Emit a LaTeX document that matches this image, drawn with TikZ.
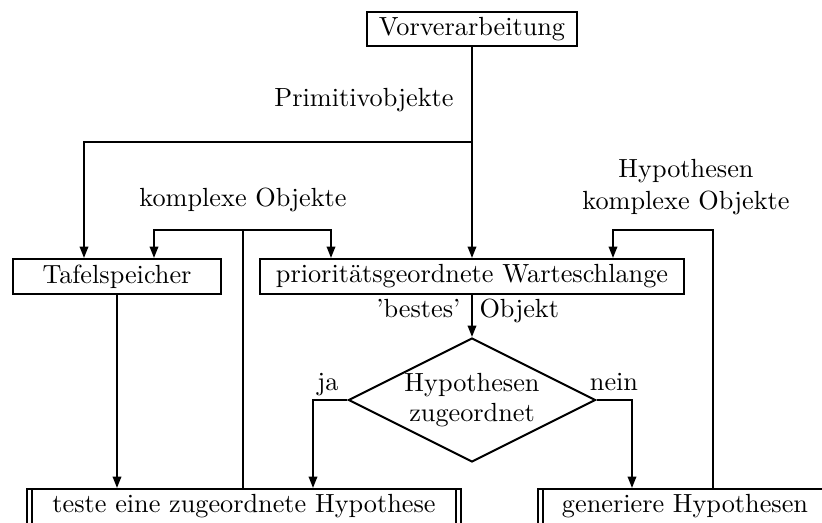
\documentclass[tikz,border=0pt]{standalone}
\usepackage{fontspec}
\usetikzlibrary{arrows.meta,shapes.geometric}
\begin{document}
\begin{tikzpicture}[x=0.4pt,y=-0.4pt,
  every node/.style={font=\fontsize{10.5pt}{12pt}\selectfont},
  box/.style={draw, thick, inner sep=0pt, minimum height=14pt},
  procbox/.style={box, path picture={
      \draw[thick] ([xshift=2pt]path picture bounding box.north west) -- ([xshift=2pt]path picture bounding box.south west)
                   ([xshift=-2pt]path picture bounding box.north east) -- ([xshift=-2pt]path picture bounding box.south east);}},
  decision/.style={draw, thick, shape=diamond, aspect=2, inner sep=0pt,
      minimum width=98.8pt, minimum height=49.6pt, align=center},
  lab/.style={inner sep=0pt, anchor=base},
  conn/.style={thick},
  arr/.style={thick, -{Triangle[length=4.6pt,width=3.4pt]}}]
\useasboundingbox (0,0) rectangle (822,522);
\clip (0,0) rectangle (822,522);

% boxes
\node[box, minimum width=83.6pt, minimum height=13.6pt] (vor) at (472,29) {Vorverarbeitung};
\node[box, minimum width=83.2pt] (taf) at (117,276.5) {Tafelspeicher};
\node[box, minimum width=169.6pt] (warte) at (472,276.5) {prioritätsgeordnete Warteschlange};
\node[decision] (dec) at (472,400) {Hypothesen\\zugeordnet};
\node[procbox, minimum width=173.6pt] (test) at (244,506.5) {teste eine zugeordnete Hypothese};
\node[procbox, minimum width=117.6pt] (gen) at (685,506.5) {generiere Hypothesen};

% labels
\node[lab] (lprim) at (364,106) {Primitivobjekte};
\node[lab] (lkom) at (243,206) {komplexe Objekte};
\node[lab] (lhyp) at (686,177) {Hypothesen};
\node[lab] (lkom2) at (686,209) {komplexe Objekte};
\node[lab, anchor=base east] (lbest) at (461,317) {'bestes'};
\node[lab, anchor=base west] (lobj) at (479,317) {Objekt};
\node[lab] (lja) at (328,390) {ja};
\node[lab] (lnein) at (614,390) {nein};

% bend points
\coordinate (pj) at (472,142);
\coordinate (pl) at (84,142);
\coordinate (ks) at (243,230);
\coordinate (kl) at (154,230);
\coordinate (kr) at (331,230);
\coordinate (jx) at (313,400);
\coordinate (nx) at (632,400);
\coordinate (rt) at (713,230);
\coordinate (rl) at (613,230);

% connectors
\draw[arr] (vor.south) -- (warte.north);
\draw[arr] (pj) -- (pl) -- (pl |- taf.north);
\draw[conn] (test.north -| ks) -- (ks);
\draw[arr] (ks) -- (kl) -- (kl |- taf.north);
\draw[arr] (ks) -- (kr) -- (kr |- warte.north);
\draw[arr] (taf.south) -- (taf.south |- test.north);
\draw[arr] (warte.south) -- (dec.north);
\draw[arr] (dec.west) -- (jx) -- (jx |- test.north);
\draw[arr] (dec.east) -- (nx) -- (nx |- gen.north);
\draw[arr] (gen.north -| rt) -- (rt) -- (rl) -- (rl |- warte.north);
\end{tikzpicture}
\end{document}
